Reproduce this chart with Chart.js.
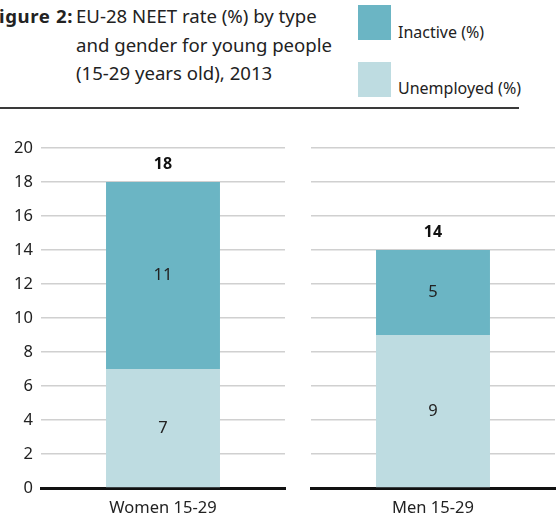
<!DOCTYPE html>
<html>
<head>
<meta charset="utf-8">
<script src="https://cdn.jsdelivr.net/npm/chart.js@4.4.1/dist/chart.umd.min.js"></script>
<style>
  html, body { margin: 0; padding: 0; background: #fff; }
  body { width: 560px; height: 517px; position: relative; overflow: hidden; font-family: "Noto Sans", sans-serif; color: #222; }
  .abs { position: absolute; }
  #figno { right: 487px; top: 2px; font-weight: bold; font-size: 18.6px; line-height: 28.5px; white-space: nowrap; letter-spacing: 0.6px; }
  #title { left: 76px; top: 2px; font-size: 18.6px; line-height: 28.5px; white-space: nowrap; }
  .swatch { position: absolute; left: 358px; width: 33px; height: 35px; }
  .leglab { position: absolute; left: 398px; font-size: 16px; line-height: 20px; white-space: nowrap; }
  #sep { left: 0; top: 107px; width: 519px; height: 2px; background: #3a3a3a; }
  #c1wrap { left: 0; top: 130px; width: 290px; height: 387px; }
  #c2wrap { left: 290px; top: 130px; width: 270px; height: 387px; }
</style>
</head>
<body>
<div id="figno" class="abs">Figure 2:</div>
<div id="title" class="abs">EU-28 NEET rate (%) by type<br>and gender for young people<br>(15-29 years old), 2013</div>
<div class="swatch" style="top:5px;background:#6bb5c4"></div>
<div class="leglab" style="top:22px">Inactive (%)</div>
<div class="swatch" style="top:62px;background:#bedce1"></div>
<div class="leglab" style="top:78px">Unemployed (%)</div>
<div id="sep" class="abs"></div>
<div id="c1wrap" class="abs"><canvas id="c1"></canvas></div>
<div id="c2wrap" class="abs"><canvas id="c2"></canvas></div>
<script>
const categories = ['Women 15-29', 'Men 15-29'];
const unemployed = [7, 9];
const inactive = [11, 5];
const totals = [18, 14];
const seriesNames = ['Unemployed (%)', 'Inactive (%)'];
const seriesColors = ['#bedce1', '#6bb5c4'];

Chart.defaults.font.family = '"Noto Sans", sans-serif';
Chart.defaults.color = '#222';

const labelPlugin = {
  id: 'barLabels',
  afterDatasetsDraw(chart, args, opts) {
    const ctx = chart.ctx;
    ctx.save();
    ctx.textAlign = 'center';
    ctx.textBaseline = 'middle';
    ctx.fillStyle = '#222';
    ctx.font = '16.5px "Noto Sans", sans-serif';
    chart.data.datasets.forEach((ds, d) => {
      const meta = chart.getDatasetMeta(d);
      meta.data.forEach((bar, j) => {
        ctx.fillText(String(ds.data[j]), bar.x, (bar.y + bar.base) / 2);
      });
    });
    const last = chart.getDatasetMeta(chart.data.datasets.length - 1);
    ctx.font = 'bold 16px "Noto Sans", sans-serif';
    ctx.fillStyle = '#111';
    last.data.forEach((bar, j) => {
      ctx.fillText(String(opts.totals[j]), bar.x, bar.y - 17);
    });
    ctx.restore();
  }
};

function makeChart(id, i, showY) {
  return new Chart(document.getElementById(id), {
    type: 'bar',
    data: {
      labels: [categories[i]],
      datasets: [
        { label: seriesNames[0], data: [unemployed[i]], backgroundColor: seriesColors[0], borderWidth: 0 },
        { label: seriesNames[1], data: [inactive[i]], backgroundColor: seriesColors[1], borderWidth: 0 }
      ]
    },
    plugins: [labelPlugin],
    options: {
      responsive: true,
      maintainAspectRatio: false,
      animation: false,
      events: [],
      layout: { padding: { top: 0, right: 5, left: 0, bottom: 0 } },
      datasets: { bar: { categoryPercentage: 1, barPercentage: 0.467 } },
      plugins: {
        legend: { display: false },
        tooltip: { enabled: false },
        barLabels: { totals: [totals[i]] }
      },
      scales: {
        x: {
          stacked: true,
          z: 1,
          grid: { display: false, drawTicks: false },
          border: { display: true, color: '#111', width: 3 },
          ticks: { font: { size: 16.5 }, color: '#222', padding: 10 },
          afterFit(s) { s.height = 29; }
        },
        y: {
          stacked: true,
          min: 0,
          max: 20,
          grid: { color: '#d0d0d0', lineWidth: 1.5, drawTicks: false },
          border: { display: false },
          ticks: { display: true, stepSize: 2, font: { size: 16.5 }, color: showY ? '#222' : 'rgba(0,0,0,0)', padding: 8 },
          afterFit(s) { s.width = showY ? 41 : 21; }
        }
      }
    }
  });
}

makeChart('c1', 0, true);
makeChart('c2', 1, false);
</script>
</body>
</html>
